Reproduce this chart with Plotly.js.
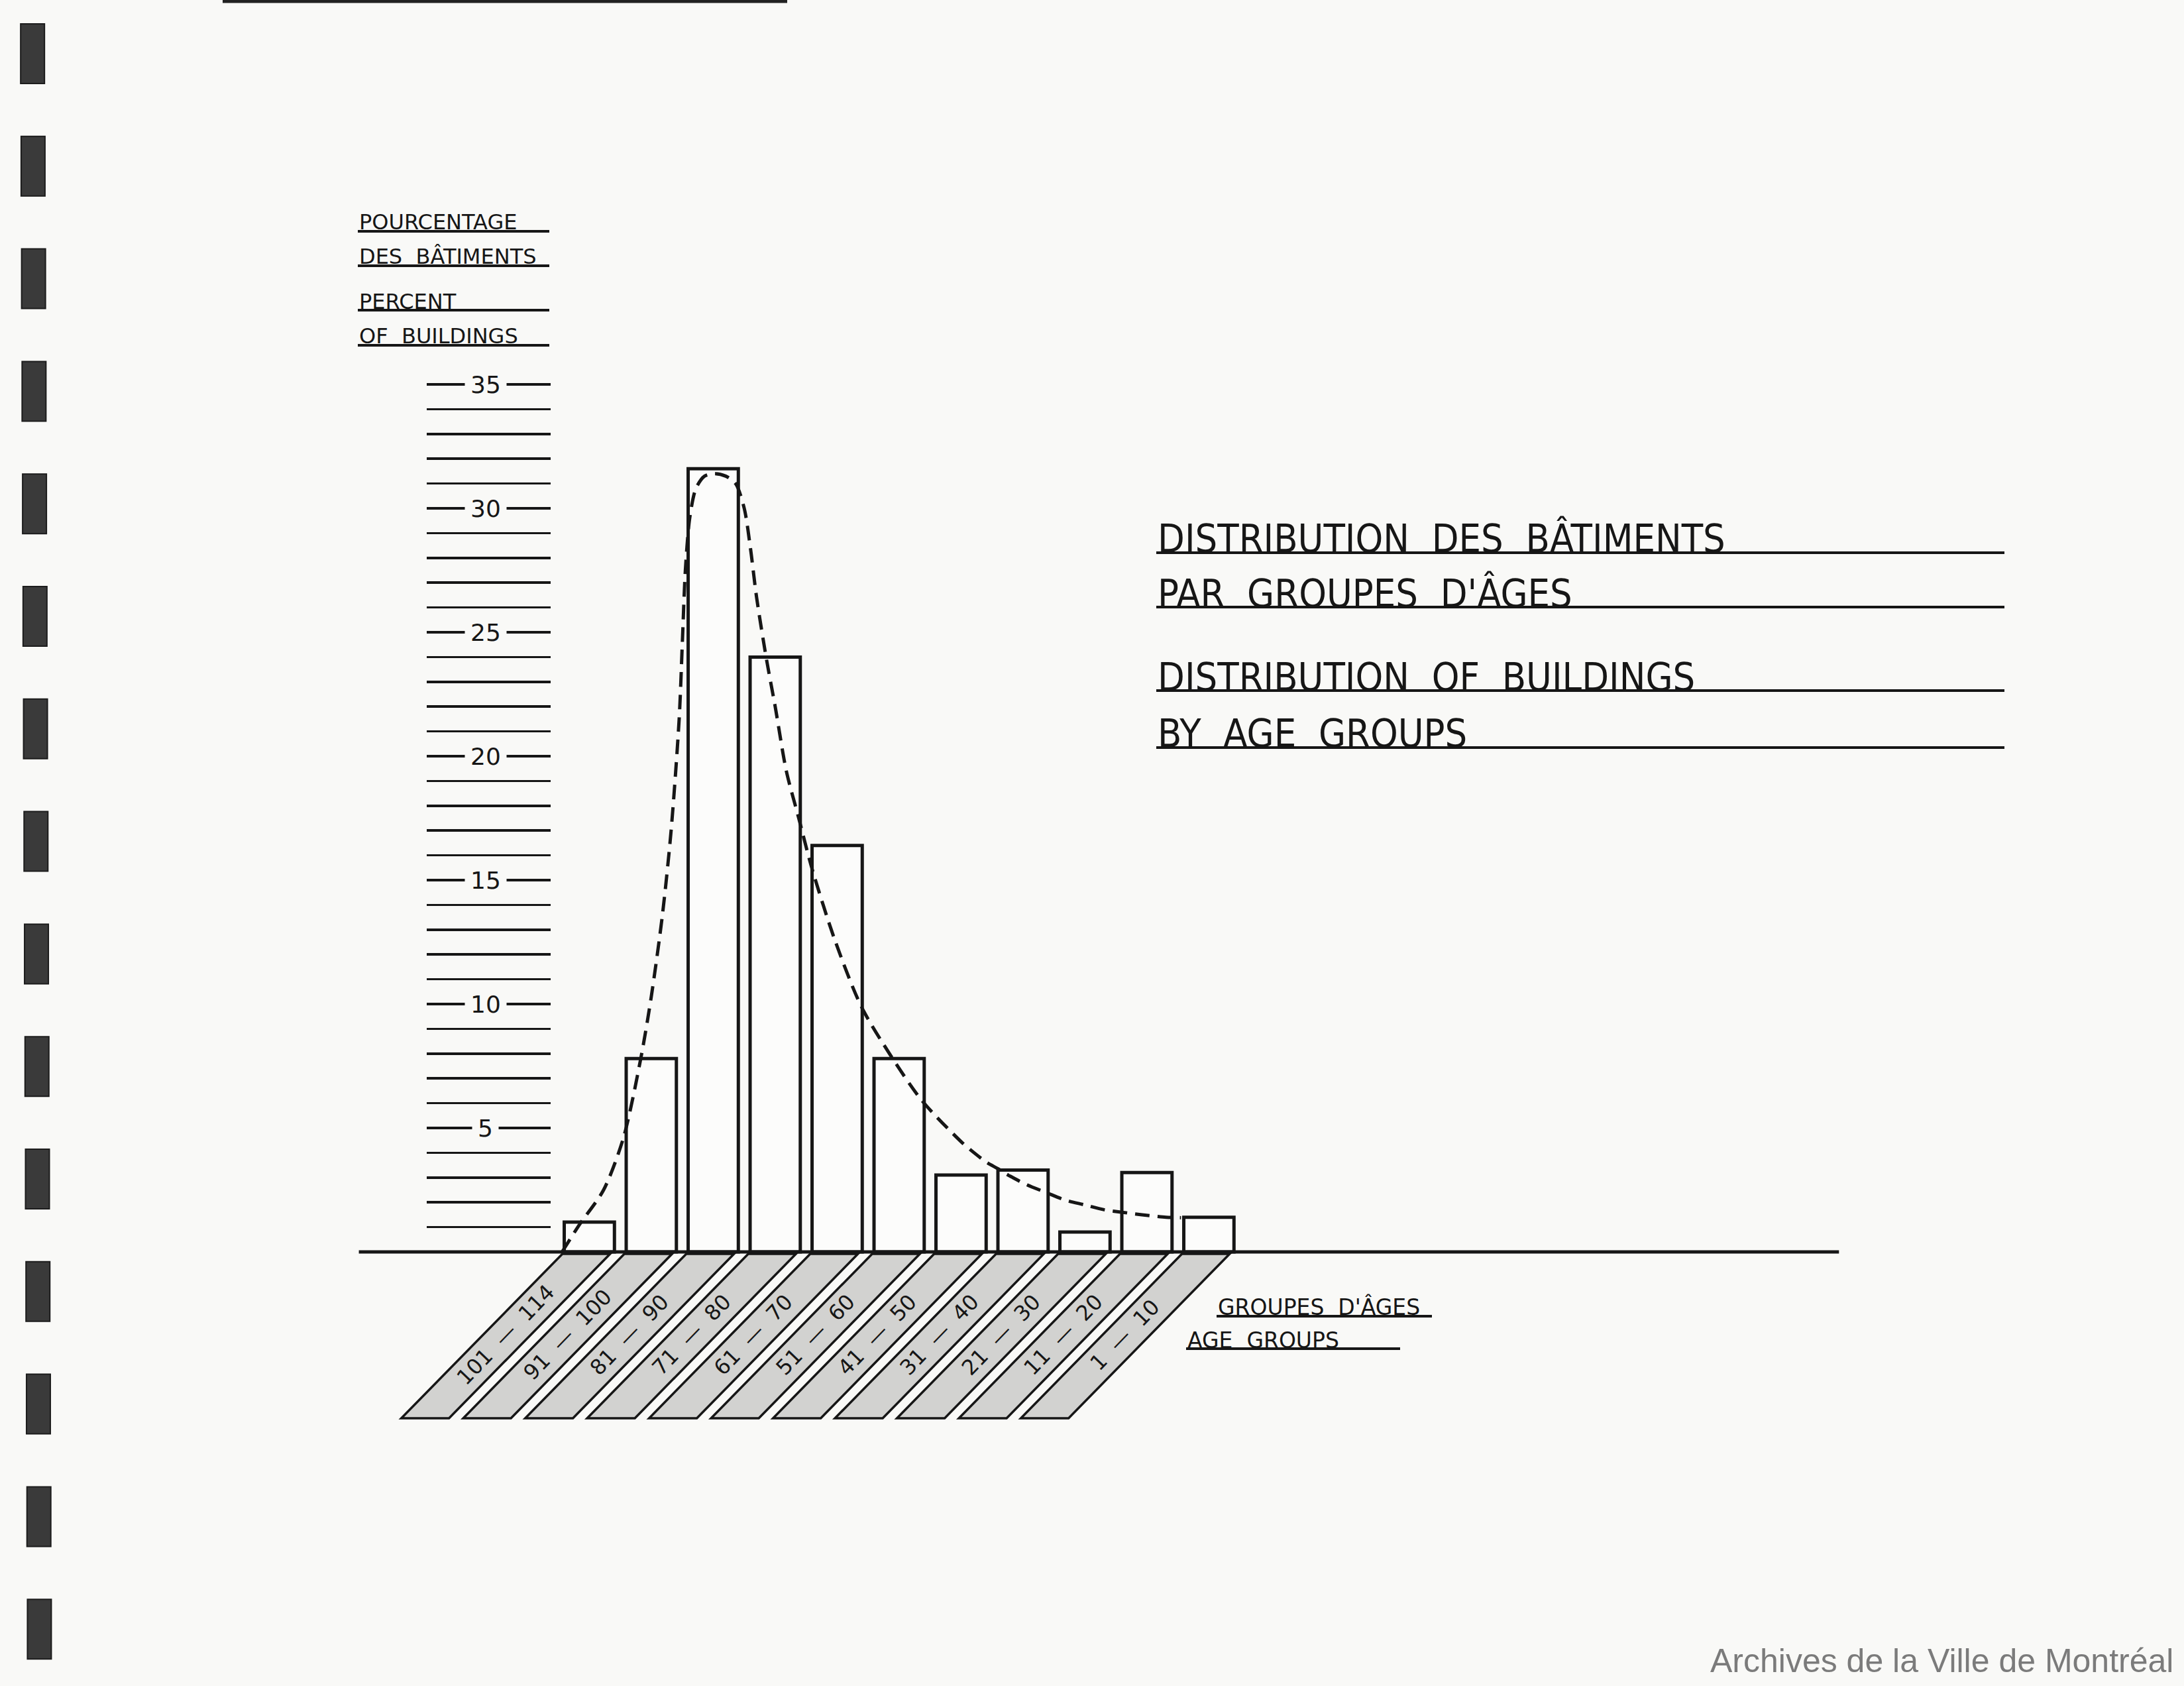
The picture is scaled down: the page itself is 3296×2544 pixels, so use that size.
<!DOCTYPE html>
<html>
<head>
<meta charset="utf-8">
<script src="https://cdn.plot.ly/plotly-3.0.1.min.js"></script>
<style>
  html, body { margin: 0; padding: 0; background: #f9f9f7; overflow: hidden; }
  #chart { width: 3296px; height: 2544px; }
</style>
</head>
<body>
<div id="chart"></div>
<script>
// ---------------- DATA ----------------
const ageGroups = ["101 — 114", "91 — 100", "81 — 90", "71 — 80", "61 — 70", "51 — 60",
                   "41 — 50", "31 — 40", "21 — 30", "11 — 20", "1 — 10"];
const percentBuildings = [1.2, 7.8, 31.6, 24.0, 16.4, 7.8, 3.1, 3.3, 0.8, 3.2, 1.4];

// hand-drawn dashed trend curve (x in bar-index units, y in %)
const trendX = [-0.44, -0.16, 0.23, 0.55, 0.83, 1.0, 1.18, 1.32, 1.45, 1.5, 1.55, 1.62, 1.72, 1.86,
                2.03, 2.2, 2.36, 2.5, 2.6, 2.7, 2.86, 3.0, 3.18, 3.38, 3.59, 3.96, 4.39, 4.87, 5.37,
                6.0, 6.21, 6.42, 6.6, 6.76, 7.07, 7.37, 7.67, 7.99, 8.31, 8.6, 8.92, 9.31, 9.55];
const trendY = [0, 1.1, 2.5, 4.6, 7.8, 10.3, 13.6, 17.0, 21.5, 24.5, 27.5, 29.6, 30.8, 31.3,
                31.4, 31.3, 31.0, 30.0, 28.4, 26.4, 23.9, 22.0, 19.4, 17.5, 15.5, 12.6, 9.9, 7.9, 6.1,
                4.45, 4.0, 3.6, 3.35, 3.1, 2.7, 2.4, 2.1, 1.9, 1.7, 1.6, 1.5, 1.4, 1.38];

const scaleLabels = [5, 10, 15, 20, 25, 30, 35];
const scaleLines = [1, 2, 3, 4, 5, 6, 7, 8, 9, 10, 11, 12, 13, 14, 15, 16, 17, 18,
                    19, 20, 21, 22, 23, 24, 25, 26, 27, 28, 29, 30, 31, 32, 33, 34, 35];

const titleLines = ["DISTRIBUTION DES BÂTIMENTS", "PAR GROUPES D'ÂGES",
                    "DISTRIBUTION OF BUILDINGS", "BY AGE GROUPS"];
const yTitleLines = ["POURCENTAGE", "DES BÂTIMENTS", "PERCENT", "OF BUILDINGS"];
const xTitleLines = ["GROUPES D'ÂGES", "AGE GROUPS"];
const creditText = "Archives de la Ville de Montréal";

// ---------------- GEOMETRY / STYLE ----------------
const PAGE_W = 3296, PAGE_H = 2544;
const ZERO_PX = 1889, UNIT_PX = 37.4;      // vertical scale
const X0_PX = 889.4, STEP_PX = 93.5;       // horizontal scale (bar index)
const BG = '#f9f9f7', INK = '#161616';
const px = v => v / PAGE_W;
const py = v => 1 - v / PAGE_H;
const wide = s => s.replace(/ /g, '&nbsp;&nbsp;');   // draftsman's wide word spacing

const xs = ageGroups.map((_, i) => i);

const traces = [
  {
    type: 'bar', x: xs, y: percentBuildings, width: 0.81,
    marker: { color: '#fcfcfb', line: { color: INK, width: 5 } },
    hoverinfo: 'skip'
  },
  {
    type: 'scatter', mode: 'lines', x: trendX, y: trendY,
    line: { color: INK, width: 5, dash: '22px,12px', shape: 'spline', smoothing: 0.8 },
    hoverinfo: 'skip'
  },
  { type: 'scatter', mode: 'lines', x: [], y: [], xaxis: 'x2', yaxis: 'y2', hoverinfo: 'skip' }
];

const shapes = [];
const annotations = [];

// binder holes (scan decoration)
for (let k = 0; k < 15; k++) {
  const y0 = 36 + k * 169.8, y1 = y0 + 90;
  const xoff = 31 + (y0 / PAGE_H) * 11;
  shapes.push({ type: 'rect', xref: 'paper', yref: 'paper',
    x0: px(xoff), x1: px(xoff + 36), y0: py(y1), y1: py(y0),
    fillcolor: '#3a3a3a', line: { color: '#1c1c1c', width: 2 } });
}
// top edge line
shapes.push({ type: 'line', xref: 'paper', yref: 'paper', x0: px(336), x1: px(1188), y0: py(2), y1: py(2),
  line: { color: '#222', width: 5 } });

// baseline
shapes.push({ type: 'line', xref: 'x', yref: 'y', x0: -3.72, x1: 20.17, y0: 0, y1: 0,
  line: { color: INK, width: 5 }, layer: 'above' });

// slanted label strips
const STRIP_W = 0.77, STRIP_OFF = -0.05, STRIP_SHIFT = 2.6, STRIP_DEPTH = 6.71;
ageGroups.forEach((lab, i) => {
  const c = i + STRIP_OFF;
  const xl = c - STRIP_W / 2, xr = c + STRIP_W / 2;
  shapes.push({ type: 'path', xref: 'x', yref: 'y',
    path: `M ${xl},-0.08 L ${xr},-0.08 L ${xr - STRIP_SHIFT},${-STRIP_DEPTH} L ${xl - STRIP_SHIFT},${-STRIP_DEPTH} Z`,
    fillcolor: '#d2d2d0', line: { color: INK, width: 3.5 } });
  annotations.push({ xref: 'x', yref: 'y', x: c - STRIP_SHIFT / 2, y: -STRIP_DEPTH / 2,
    text: wide(lab), showarrow: false, textangle: -46, xanchor: 'center', yanchor: 'middle',
    font: { family: 'DejaVu Sans, sans-serif', size: 32, color: INK } });
});

// scale labels breaking the scale lines
scaleLabels.forEach(v => {
  annotations.push({ xref: 'x', yref: 'y', x: -1.673, y: v, text: String(v), showarrow: false,
    xanchor: 'center', yanchor: 'middle', bgcolor: BG, borderpad: 8,
    font: { family: 'DejaVu Sans, sans-serif', size: 36, color: INK } });
});

// text block helper
function textLine(str, left, cy, size, family, ulFrom, ulTo, ulY) {
  annotations.push({ xref: 'paper', yref: 'paper', x: px(left), y: py(cy), text: wide(str),
    showarrow: false, xanchor: 'left', yanchor: 'middle',
    font: { family: family, size: size, color: INK } });
  shapes.push({ type: 'line', xref: 'paper', yref: 'paper', x0: px(ulFrom), x1: px(ulTo),
    y0: py(ulY), y1: py(ulY), line: { color: INK, width: 4 } });
}
const COND = 'DejaVu Sans Condensed, Liberation Sans Narrow, Roboto Condensed, DejaVu Sans, sans-serif';
const REG = 'DejaVu Sans, sans-serif';

// main title (right)
const titleCY = [812, 896, 1022, 1106], titleUL = [834, 916, 1042, 1128];
titleLines.forEach((t, k) => textLine(t, 1745, titleCY[k], 59, COND, 1745, 3025, titleUL[k]));

// y-axis title (top left)
const yCY = [335, 387, 455, 507], yUL = [349, 401, 468, 521];
yTitleLines.forEach((t, k) => textLine(t, 540, yCY[k], 32, REG, 540, 829, yUL[k]));

// x-axis title
textLine(xTitleLines[0], 1836, 1972, 33, REG, 1836, 2161, 1986);
textLine(xTitleLines[1], 1790, 2022, 33, REG, 1790, 2113, 2035);

// archive credit
annotations.push({ xref: 'paper', yref: 'paper', x: px(3282), y: py(2506), text: creditText,
  showarrow: false, xanchor: 'right', yanchor: 'middle',
  font: { family: 'Liberation Sans, Arial, sans-serif', size: 50, color: '#7b7b7b' } });

const layout = {
  width: PAGE_W, height: PAGE_H, autosize: false,
  margin: { l: 0, r: 0, t: 0, b: 0, pad: 0 },
  paper_bgcolor: BG, plot_bgcolor: 'rgba(0,0,0,0)',
  showlegend: false, hovermode: false,
  xaxis: { domain: [0, 1], range: [-X0_PX / STEP_PX, (PAGE_W - X0_PX) / STEP_PX], visible: false },
  yaxis: { domain: [0, 1], range: [(ZERO_PX - PAGE_H) / UNIT_PX, ZERO_PX / UNIT_PX], visible: false },
  xaxis2: { domain: [px(644), px(831)], range: [0, 1], anchor: 'y2', showgrid: false, zeroline: false,
            showline: false, showticklabels: false, ticks: '' },
  yaxis2: { domain: [0, 1], range: [(ZERO_PX - PAGE_H) / UNIT_PX, ZERO_PX / UNIT_PX], anchor: 'x2',
            tickmode: 'array', tickvals: scaleLines, showgrid: true, gridcolor: INK, gridwidth: 3.5,
            zeroline: false, showline: false, showticklabels: false, ticks: '' },
  shapes: shapes,
  annotations: annotations
};

Plotly.newPlot('chart', traces, layout, { staticPlot: true, displayModeBar: false });
</script>
</body>
</html>
